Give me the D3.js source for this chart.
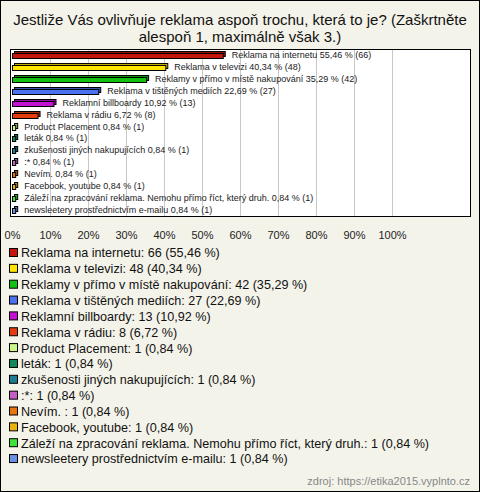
<!DOCTYPE html>
<html>
<head>
<meta charset="utf-8">
<script src="https://cdn.jsdelivr.net/npm/d3@7"></script>
<style>
  body { margin: 0; background: #fff; }
  svg { display: block; font-family: "Liberation Sans", Arial, sans-serif; }
</style>
</head>
<body>
<svg id="chart" width="480" height="492"></svg>
<script>
// Values
const categories = [
    "Reklama na internetu",
    "Reklama v televizi",
    "Reklamy v přímo v místě nakupování",
    "Reklama v tištěných mediích",
    "Reklamní billboardy",
    "Reklama v rádiu",
    "Product Placement",
    "leták",
    "zkušenosti jiných nakupujících",
    ":*",
    "Nevím. ",
    "Facebook, youtube",
    "Záleží na zpracování reklama. Nemohu přímo říct, který druh.",
    "newsleetery prostřednictvím e-mailu"
];
const counts = [66, 48, 42, 27, 13, 8, 1, 1, 1, 1, 1, 1, 1, 1];
const percents = [55.46, 40.34, 35.29, 22.69, 10.92, 6.72, 0.84, 0.84, 0.84, 0.84, 0.84, 0.84, 0.84, 0.84];
const colors = ["#c4160c", "#ffe400", "#12c012", "#4a72f0", "#c412d2", "#e43c0c",
    "#ccf58c", "#12885c", "#1c7c94", "#c460c4", "#e8760c", "#e8b40c", "#3ce43c", "#6890e4"];
const ticks = [0, 10, 20, 30, 40, 50, 60, 70, 80, 90, 100];

const title = ["Jestliže Vás ovlivňuje reklama aspoň trochu, která to je? (Zaškrtněte",
    "alespoň 1, maximálně však 3.)"];
const source = "zdroj: https://etika2015.vyplnto.cz";

const fmt = v => v.toFixed(2).replace(".", ",");

const svg = d3.select("#chart");
const W = 480, H = 492;

// frame
svg.append("rect")
    .attr("x", 0.5).attr("y", 0.5)
    .attr("width", W - 1).attr("height", H - 1)
    .attr("fill", "#f4f3ea").attr("stroke", "#000");

svg.append("g").selectAll("text")
    .data(title)
    .join("text")
    .attr("x", 240)
    .attr("y", (d, i) => 25 + i * 17)
    .attr("text-anchor", "middle")
    .attr("font-size", 15)
    .attr("fill", "#111")
    .text(d => d);

// plot area
const box = { left: 10, right: 470, top: 49, bottom: 216 };
svg.append("rect")
    .attr("x", box.left + 0.5).attr("y", box.top + 0.5)
    .attr("width", box.right - box.left).attr("height", box.bottom - box.top)
    .attr("fill", "#fff");

const x = d3.scaleLinear().domain([0, 100]).range([12, 392]);
const y = d3.scaleBand().domain(d3.range(categories.length)).range([box.top + 1, box.bottom]);

// grid
svg.append("g").selectAll("line")
    .data(ticks.slice(1))
    .join("line")
    .attr("x1", d => Math.round(x(d)) + 0.5)
    .attr("x2", d => Math.round(x(d)) + 0.5)
    .attr("y1", box.top)
    .attr("y2", box.bottom)
    .attr("stroke", "#c8c8c8");

svg.append("rect")
    .attr("x", box.left + 0.5).attr("y", box.top + 0.5)
    .attr("width", box.right - box.left).attr("height", box.bottom - box.top)
    .attr("fill", "none").attr("stroke", "#000");

// x axis labels
const axis = d3.axisBottom(x).tickValues(ticks).tickFormat(d => d + "%").tickSize(0).tickPadding(0);
const ax = svg.append("g")
    .attr("transform", `translate(0, ${box.bottom + 15})`)
    .call(axis);
ax.select(".domain").remove();
ax.selectAll("text")
    .attr("font-size", 11)
    .attr("font-family", "Liberation Sans, Arial, sans-serif")
    .attr("fill", "#222");

// bars (pseudo 3D)
const bh = 5, depth = 2;
const bars = svg.append("g").selectAll("g")
    .data(categories.map((c, i) => ({ c, i, n: counts[i], p: percents[i], col: colors[i] })))
    .join("g")
    .attr("transform", d => `translate(0, ${Math.round(y(d.i) + y.bandwidth() / 2 - bh / 2) + 0.5})`);

bars.append("rect")
    .attr("x", x(0) + depth + 0.5)
    .attr("y", -depth)
    .attr("width", d => Math.max(2, x(d.p) - x(0)))
    .attr("height", bh)
    .attr("fill", d => d3.color(d.col).darker(0.8))
    .attr("stroke", "#000")
    .attr("stroke-width", 1);

bars.append("rect")
    .attr("x", x(0) + 0.5)
    .attr("y", 0)
    .attr("width", d => Math.max(2, x(d.p) - x(0)))
    .attr("height", bh)
    .attr("fill", d => d.col)
    .attr("stroke", "#000")
    .attr("stroke-width", 1);

bars.append("text")
    .attr("x", d => x(d.p) + depth + 7)
    .attr("y", bh / 2 - 1)
    .attr("dy", "0.35em")
    .attr("font-size", 9)
    .attr("fill", "#222")
    .text(d => `${d.c} ${fmt(d.p)} % (${d.n})`);

// legend
const legend = svg.append("g").selectAll("g")
    .data(categories.map((c, i) => ({ c, i })))
    .join("g")
    .attr("transform", d => `translate(9, ${253 + d.i * 15.85})`);

legend.append("rect")
    .attr("x", 0.5).attr("y", -4.5)
    .attr("width", 8).attr("height", 8)
    .attr("fill", d => colors[d.i])
    .attr("stroke", "#000");

legend.append("text")
    .attr("x", 12)
    .attr("y", 0)
    .attr("dy", "0.35em")
    .attr("font-size", 12.6)
    .attr("fill", "#111")
    .text(d => `${d.c}: ${counts[d.i]} (${fmt(percents[d.i])} %)`);

svg.append("text")
    .attr("x", 470)
    .attr("y", 485)
    .attr("text-anchor", "end")
    .attr("font-size", 11)
    .attr("fill", "#888")
    .text(source);
</script>
</body>
</html>
